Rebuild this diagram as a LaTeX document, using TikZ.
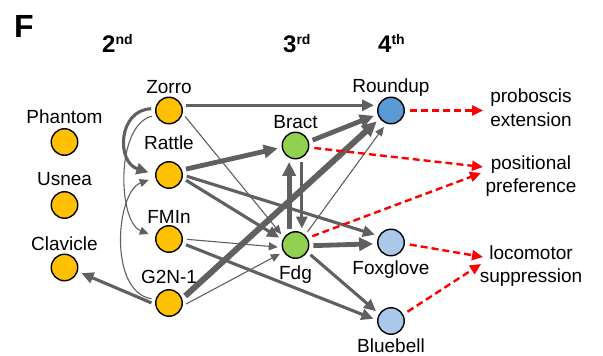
\documentclass[tikz,border=0pt]{standalone}
\usepackage{fontspec}
\setmainfont{Liberation Sans}
\usetikzlibrary{arrows.meta}
\definecolor{gorange}{HTML}{FFC000}
\definecolor{ggreen}{HTML}{92D050}
\definecolor{gblue}{HTML}{5B9BD5}
\definecolor{glblue}{HTML}{AAC8EA}
\definecolor{edgegray}{HTML}{606060}
\definecolor{dred}{HTML}{FF0000}
\begin{document}
\begin{tikzpicture}[x=1pt,y=-1pt,
  neuron/.style={circle,draw=black,line width=1.4pt,minimum size=26.5pt,inner sep=0pt},
  orangen/.style={neuron,fill=gorange},
  greenn/.style={neuron,fill=ggreen},
  bluen/.style={neuron,fill=gblue},
  lbluen/.style={neuron,fill=glblue},
  lbl/.style={font=\fontsize{19}{23.5}\selectfont,anchor=base,inner sep=0pt},
  outlbl/.style={font=\fontsize{19}{23.5}\selectfont,align=center,inner sep=0pt},
  hdr/.style={font=\fontsize{24}{28}\selectfont\bfseries,anchor=base west,inner sep=0pt},
  edgebase/.style={draw=edgegray,shorten >=4pt,shorten <=4pt},
  thinA/.style={edgebase,line width=1.1pt,-{Triangle[length=9pt,width=8pt]}},
  medA/.style={edgebase,line width=3.1pt,-{Triangle[length=12pt,width=11pt]}},
  thickA/.style={edgebase,line width=4.8pt,-{Triangle[length=14pt,width=13pt]}},
  vthickA/.style={edgebase,line width=6pt,-{Triangle[length=15pt,width=14pt]}},
  redA/.style={draw=dred,line width=2.4pt,dash pattern=on 7pt off 4pt,shorten <=5pt,-{Triangle[length=11pt,width=10pt]}}
]
\useasboundingbox (0,0) rectangle (603,356);

% panel letter and headers
\node[font=\fontsize{32}{36}\selectfont\bfseries,anchor=base west,inner sep=0pt] (F) at (14,37) {F};
\node[hdr] (h2) at (102,52) {2\raisebox{7pt}{\fontsize{14}{14}\selectfont\bfseries nd}};
\node[hdr] (h3) at (283,52) {3\raisebox{7pt}{\fontsize{14}{14}\selectfont\bfseries rd}};
\node[hdr] (h4) at (378,52) {4\raisebox{7pt}{\fontsize{14}{14}\selectfont\bfseries th}};

% neurons
\node[orangen] (phantom) at (64.5,142) {};
\node[orangen] (usnea) at (64.5,205) {};
\node[orangen] (clavicle) at (64.5,267.5) {};
\node[orangen] (zorro) at (169,110.5) {};
\node[orangen] (rattle) at (169,175) {};
\node[orangen] (fmin) at (169,239) {};
\node[orangen] (g2n) at (169,303) {};
\node[greenn] (bract) at (295.5,145.5) {};
\node[greenn] (fdg) at (295.5,245) {};
\node[bluen] (roundup) at (391,110.5) {};
\node[lbluen] (foxglove) at (391,242.5) {};
\node[lbluen] (bluebell) at (391,321) {};

% labels
\node[lbl] (lphantom) at (64.5,123) {Phantom};
\node[lbl] (lusnea) at (64.5,185) {Usnea};
\node[lbl] (lclavicle) at (64.5,250) {Clavicle};
\node[lbl] (lzorro) at (169,93) {Zorro};
\node[lbl] (lrattle) at (169,149) {Rattle};
\node[lbl] (lfmin) at (169,223) {FMIn};
\node[lbl] (lg2n) at (169,283) {G2N-1};
\node[lbl] (lbract) at (295.5,128) {Bract};
\node[lbl] (lfdg) at (295.5,279) {Fdg};
\node[lbl] (lroundup) at (391,92.5) {Roundup};
\node[lbl] (lfoxglove) at (391,274) {Foxglove};
\node[lbl] (lbluebell) at (391,352) {Bluebell};

% behaviours
\node[outlbl] (prob) at (531,107.5) {proboscis\\extension};
\node[outlbl] (posp) at (531,176.3) {positional\\preference};
\node[outlbl] (loco) at (531,266.3) {locomotor\\suppression};
\coordinate (tprob) at (483,110.5);
\coordinate (tpos1) at (483,167);
\coordinate (tpos2) at (481,173);
\coordinate (tloc1) at (483,257);
\coordinate (tloc2) at (481,264);

% gray connections
\draw[medA] (zorro.22) -- (roundup.158);
\draw[thinA] (zorro.-12) -- (fdg.147);
\draw[thickA] (rattle.21) -- (bract.188);
\draw[medA] (rattle.0) -- (foxglove.152);
\draw[medA] (rattle.-13) -- (fdg.158);
\draw[thinA] (fmin.0) -- (fdg.190);
\draw[medA] (fmin.-18) -- (bluebell.177);
\draw[thinA] (g2n.-12) -- (fdg.210);
\draw[vthickA] (g2n.18) -- (roundup.216);
\draw[medA] (g2n.186) -- (clavicle.-17);
\draw[thickA] (bract.16) -- (roundup.196);
\draw[thickA] (fdg.117) -- (bract.243);
\draw[medA] (bract.297) -- (fdg.63);
\draw[thinA] (fdg.46) -- (roundup.250);
\draw[thickA] (fdg.-3) -- (foxglove.185);
\draw[medA] (fdg.-31) -- (bluebell.149);

% curved connections on the left
\draw[medA,shorten >=7pt] (zorro.172) .. controls (118,110) and (116,162) .. (rattle.178);
\draw[thinA,shorten >=7pt] (zorro.200) .. controls (115,125) and (118,222) .. (fmin.170);
\draw[thinA,shorten >=7pt] (g2n.165) .. controls (108,292) and (116,192) .. (rattle.190);

% red dashed outputs
\draw[redA] (roundup.0) -- (tprob);
\draw[redA] (bract.-8) -- (tpos1);
\draw[redA] (fdg.30) -- (tpos2);
\draw[redA] (foxglove.-5) -- (tloc1);
\draw[redA] (bluebell.28) -- (tloc2);
\end{tikzpicture}
\end{document}
